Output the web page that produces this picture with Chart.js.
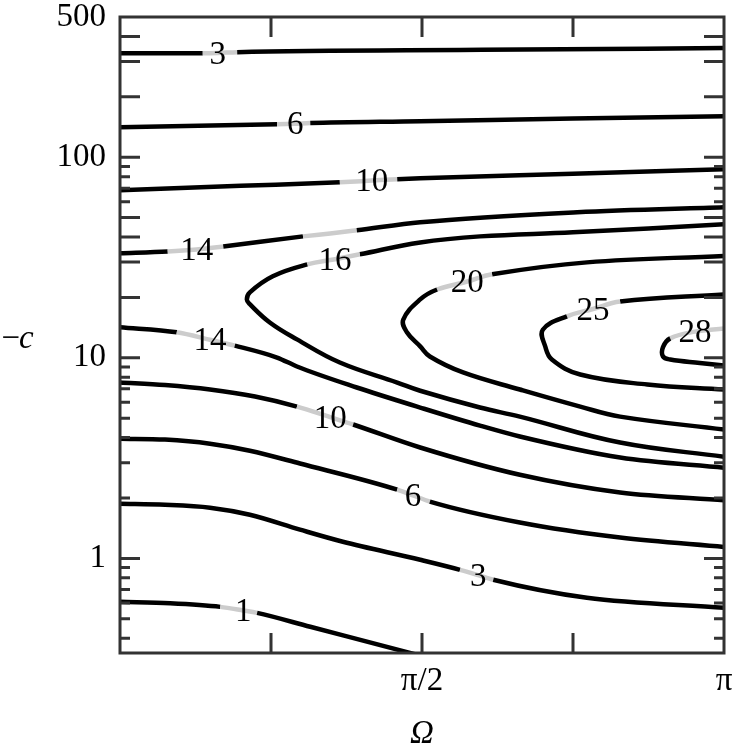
<!DOCTYPE html>
<html>
<head>
<meta charset="utf-8">
<script src="https://cdn.jsdelivr.net/npm/chart.js@4.4.0/dist/chart.umd.min.js"></script>
<style>
  html, body { margin: 0; padding: 0; background: #fff; }
  #wrap { width: 735px; height: 754px; position: relative; }
</style>
</head>
<body>
<div id="wrap"><canvas id="chart"></canvas></div>
<script>
// contour lines, points as [Omega / pi, -c]
const c3Top = [[0, 330], [0.137, 330], [0.162, 331], [0.194, 334], [0.6, 343], [1, 350]];
const c6Top = [[0, 141], [0.26, 146], [0.29, 147], [0.315, 148], [0.497, 151], [0.75, 156], [1, 160]];
const c10Top = [[0, 68.4], [0.2, 72], [0.364, 75], [0.417, 76.5], [0.459, 77.7], [0.497, 78.6], [0.75, 82.7], [1, 87.1]];
const c14Top = [[0, 33.2], [0.079, 33.9], [0.127, 34.7], [0.171, 35.9], [0.303, 40.3], [0.348, 41.7], [0.392, 43.2], [0.497, 47.4], [0.757, 53.2], [1, 56.3]];
const c16 = [[1, 46.3], [0.75, 42.2], [0.596, 40.3], [0.497, 37.6], [0.397, 32.8], [0.356, 31], [0.31, 29.2], [0.253, 25.5], [0.215, 21.2], [0.21, 19.5], [0.215, 18.5], [0.248, 15], [0.293, 12.35], [0.364, 9.47], [0.459, 7.53], [0.497, 6.85], [0.596, 5.65], [0.662, 5.09], [0.828, 3.78], [1, 3.21]];
const c20 = [[1, 32.2], [0.773, 29.9], [0.616, 26.1], [0.575, 24], [0.525, 21.9], [0.497, 19.55], [0.469, 15.5], [0.475, 13.4], [0.497, 11.4], [0.513, 10.15], [0.568, 8.45], [0.662, 6.95], [0.762, 5.71], [0.828, 5.09], [1, 4.39]];
const c25 = [[1, 20.7], [0.828, 19.1], [0.783, 17.5], [0.74, 16.1], [0.7, 13.8], [0.704, 11.4], [0.715, 9.8], [0.762, 8.25], [0.873, 7.36], [1, 6.95]];
const c28 = [[1, 14], [0.952, 13.5], [0.911, 12.5], [0.899, 11.3], [0.899, 10.15], [0.911, 9.8], [0.96, 9.42], [1, 9.15]];
const c14Low = [[0, 14.2], [0.094, 13.4], [0.149, 12.3], [0.19, 11.5], [0.26, 10.03], [0.293, 9.05], [0.392, 7.11], [0.497, 5.65], [0.596, 4.59], [0.662, 4.05], [0.828, 3.18], [1, 2.83]];
const c10Low = [[0, 7.53], [0.0745, 7.31], [0.149, 6.95], [0.2235, 6.41], [0.293, 5.71], [0.348, 5.06], [0.386, 4.65], [0.497, 3.57], [0.662, 2.61], [0.828, 2.13], [1, 1.95]];
const c6Low = [[0, 3.95], [0.0745, 3.91], [0.149, 3.73], [0.215, 3.44], [0.298, 2.97], [0.459, 2.2], [0.485, 2.06], [0.513, 1.92], [0.662, 1.51], [0.828, 1.27], [1, 1.14]];
const c3Low = [[0, 1.87], [0.0745, 1.85], [0.149, 1.79], [0.215, 1.65], [0.298, 1.39], [0.369, 1.21], [0.497, 0.984], [0.563, 0.877], [0.593, 0.825], [0.618, 0.782], [0.773, 0.636], [1, 0.567]];
const c1 = [[0, 0.607], [0.083, 0.597], [0.166, 0.573], [0.204, 0.55], [0.227, 0.535], [0.315, 0.456], [0.48, 0.338], [0.53, 0.308]];

// which point carries the inline label, and its text; bends = curve turns back in Omega
const contours = [
	{ pts: c3Top, labels: [[2, "3"]] },
	{ pts: c6Top, labels: [[2, "6"]] },
	{ pts: c10Top, labels: [[3, "10"]] },
	{ pts: c14Top, labels: [[2, "14"], [5, ""]] },
	{ pts: c16, labels: [[5, "16"]], bends: true },
	{ pts: c20, labels: [[3, "20"]], bends: true },
	{ pts: c25, labels: [[2, "25"]], bends: true },
	{ pts: c28, labels: [[1, "28"]], bends: true },
	{ pts: c14Low, labels: [[2, "14"]] },
	{ pts: c10Low, labels: [[5, "10"]] },
	{ pts: c6Low, labels: [[6, "6"]] },
	{ pts: c3Low, labels: [[8, "3"]] },
	{ pts: c1, labels: [[3, "1"]] },
];

const xTickValues = [0, 0.25, 0.5, 0.75, 1];
const xTickLabels = ["", "", "\u03c0/2", "", "\u03c0"];
const yTickValues = [0.4, 0.5, 0.6, 0.7, 0.8, 0.9, 1, 2, 3, 4, 5, 6, 7, 8, 9, 10, 20, 30, 40, 50, 60, 70, 80, 90, 100, 200, 300, 400, 500];
const yLongTicks = [1, 10, 20, 30, 40, 50, 100, 200, 300, 400];
const yTickLabels = { 1: "1", 10: "10", 100: "100", 500: "500" };

const SERIF = '"Liberation Serif", "DejaVu Serif", serif';
const BLACK = "#000";
const GRAY = "#cccccc";

const datasets = contours.map((c) => {
	const grayIdx = new Set();
	c.labels.forEach(([i]) => {
		grayIdx.add(i - 1);
		grayIdx.add(i);
	});
	return {
		data: c.pts.map(([o, v]) => ({ x: o * Math.PI, y: v })),
		labelSpots: c.labels,
		showLine: true,
		pointRadius: 0,
		borderWidth: 4.5,
		borderColor: BLACK,
		borderCapStyle: "butt",
		borderJoinStyle: "round",
		cubicInterpolationMode: c.bends ? "default" : "monotone",
		tension: 0.4,
		segment: {
			borderColor: (sc) => (grayIdx.has(sc.p0DataIndex) ? GRAY : BLACK),
		},
	};
});

// scales should not push the plot area around because of their labels
const noScalePadding = (s) => {
	s.paddingTop = 0;
	s.paddingBottom = 0;
	s.paddingLeft = 0;
	s.paddingRight = 0;
};

const decorPlugin = {
	id: "decor",
	afterDatasetsDraw(chart) {
		const { ctx, chartArea: a, scales } = chart;
		const x = scales.x, y = scales.y;
		ctx.save();

		// inline contour labels
		ctx.font = "33px " + SERIF;
		ctx.fillStyle = "#000";
		ctx.textAlign = "center";
		ctx.textBaseline = "middle";
		chart.data.datasets.forEach((ds) => {
			ds.labelSpots.forEach(([i, text]) => {
				if (!text) return;
				const p = ds.data[i];
				ctx.fillText(text, x.getPixelForValue(p.x), y.getPixelForValue(p.y) + 2);
			});
		});

		// tick marks on all four sides
		ctx.strokeStyle = "#333";
		ctx.lineWidth = 3;
		ctx.beginPath();
		yTickValues.forEach((v) => {
			if (v >= 500) return;
			const py = y.getPixelForValue(v);
			const len = yLongTicks.includes(v) ? 20 : 10;
			ctx.moveTo(a.left, py);
			ctx.lineTo(a.left + len, py);
			ctx.moveTo(a.right, py);
			ctx.lineTo(a.right - len, py);
		});
		xTickValues.forEach((v) => {
			if (v === 0 || v === 1) return;
			const px = x.getPixelForValue(v * Math.PI);
			ctx.moveTo(px, a.bottom);
			ctx.lineTo(px, a.bottom - 20);
			ctx.moveTo(px, a.top);
			ctx.lineTo(px, a.top + 20);
		});
		ctx.stroke();
		ctx.strokeRect(a.left, a.top, a.right - a.left, a.bottom - a.top);

		// y axis title, horizontal
		ctx.fillStyle = "#000";
		ctx.textBaseline = "middle";
		ctx.textAlign = "right";
		ctx.font = "33px " + SERIF;
		ctx.fillText("\u2212", 20, 339);
		ctx.textAlign = "left";
		ctx.font = "italic 33px " + SERIF;
		ctx.fillText("c", 19, 339);
		ctx.restore();
	},
};

const ctx = document.getElementById("chart").getContext("2d");

new Chart(ctx, {
	type: "scatter",
	data: { datasets },
	options: {
		responsive: true,
		maintainAspectRatio: false,
		animation: false,
		events: [],
		layout: { padding: { top: 17, right: 11, left: 0, bottom: 0 } },
		plugins: { legend: { display: false }, tooltip: { enabled: false } },
		scales: {
			x: {
				type: "linear",
				min: 0,
				max: Math.PI,
				bounds: "data",
				afterFit: (s) => {
					s.height = 101;
					noScalePadding(s);
				},
				afterBuildTicks: (s) => {
					s.ticks = xTickValues.map((v) => ({ value: v * Math.PI }));
				},
				grid: { display: false, drawTicks: false },
				border: { display: false },
				ticks: {
					autoSkip: false,
					maxRotation: 0,
					padding: 12,
					color: "#000",
					font: { family: SERIF, size: 33, lineHeight: 1 },
					callback: (v, i) => xTickLabels[i],
				},
				title: {
					display: true,
					text: "\u03a9",
					color: "#000",
					font: { family: SERIF, size: 33, style: "italic", lineHeight: 1.2 },
					padding: { top: 0, bottom: 0 },
				},
			},
			y: {
				type: "logarithmic",
				min: 0.3375,
				max: 500,
				bounds: "data",
				afterFit: (s) => {
					s.width = 120;
					noScalePadding(s);
				},
				afterBuildTicks: (s) => {
					s.ticks = yTickValues.map((v) => ({ value: v }));
				},
				grid: { display: false, drawTicks: false },
				border: { display: false },
				ticks: {
					autoSkip: false,
					padding: 14,
					color: "#000",
					font: { family: SERIF, size: 33, lineHeight: 1 },
					callback: (v) => yTickLabels[v] || "",
				},
			},
		},
	},
	plugins: [decorPlugin],
});
</script>
</body>
</html>
